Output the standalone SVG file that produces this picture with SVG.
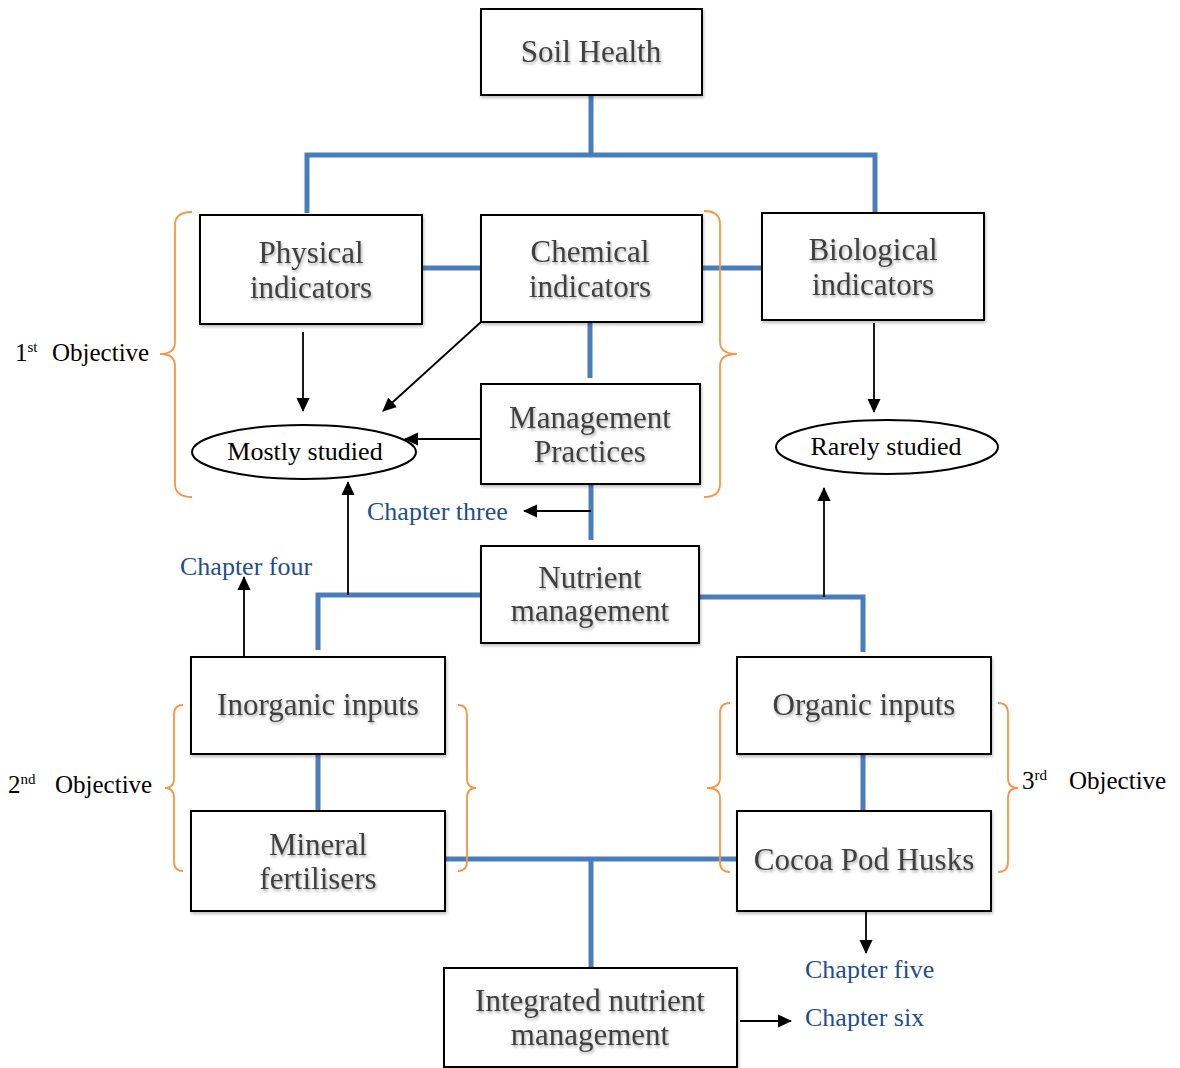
<svg xmlns="http://www.w3.org/2000/svg" width="1180" height="1068" viewBox="0 0 1180 1068">
<style>
.box{fill:#fff;stroke:#000;stroke-width:2}
.bt{font-family:"Liberation Serif",serif;font-size:31px;fill:#404040;text-anchor:middle}
.et{font-family:"Liberation Serif",serif;font-size:26px;fill:#000;text-anchor:middle}
.ch{font-family:"Liberation Serif",serif;font-size:26px;fill:#1f4e8a}
.ob{font-family:"Liberation Serif",serif;font-size:25px;fill:#000}
.blue{stroke:#4a7ebb;stroke-width:5;fill:none}
.arr{stroke:#000;stroke-width:1.8;fill:none;marker-end:url(#ah)}
.br{stroke:#f79646;stroke-width:1.8;fill:none}
.ell{fill:#fff;stroke:#000;stroke-width:2}
</style>
<defs>
<marker id="ah" markerWidth="14" markerHeight="14" refX="13" refY="7" orient="auto" markerUnits="userSpaceOnUse" viewBox="0 0 14 14">
<path d="M0,0.5 L14,7 L0,13.5 Z" fill="#000"/>
</marker>
<filter id="ts" x="-10%" y="-30%" width="120%" height="160%">
<feDropShadow dx="1" dy="2" stdDeviation="1.5" flood-color="#000" flood-opacity="0.35"/>
</filter>
<filter id="bs" x="-5%" y="-5%" width="110%" height="115%">
<feDropShadow dx="1" dy="2" stdDeviation="1.5" flood-color="#000" flood-opacity="0.25"/>
</filter>
</defs>
<rect width="1180" height="1068" fill="#fff"/>

<g id="connectors">
<path class="blue" d="M591,95 V155 M307,213 V155 H875 V213"/>
<path class="blue" d="M422,268 H481 M702,268 H762"/>
<path class="blue" d="M590,322 V378"/>
<path class="blue" d="M591,484 V540"/>
<path class="blue" d="M481,595 H318 V650 M699,597 H863 V652"/>
<path class="blue" d="M318,754 V811 M863,754 V811"/>
<path class="blue" d="M445,859 H737 M591,859 V968"/>
<line class="arr" x1="303" y1="332" x2="303" y2="411"/>
<line class="arr" x1="481" y1="322" x2="383" y2="411"/>
<line class="arr" x1="481" y1="439" x2="405" y2="439"/>
<line class="arr" x1="874" y1="323" x2="874" y2="412"/>
<line class="arr" x1="591" y1="511" x2="524" y2="511"/>
<line class="arr" x1="348" y1="595" x2="348" y2="482"/>
<line class="arr" x1="824" y1="597" x2="824" y2="488"/>
<line class="arr" x1="244" y1="658" x2="244" y2="577"/>
<line class="arr" x1="866" y1="911" x2="866" y2="953"/>
<line class="arr" x1="740" y1="1021" x2="791" y2="1021"/>
</g>

<g id="brackets">
<path class="br" d="M192,212 Q175,212 175,225 V342 Q175,354 160,354 Q175,354 175,366 V484 Q175,497 192,497"/>
<path class="br" d="M704,211 Q720,211 720,224 V342 Q720,354 737,354 Q720,354 720,366 V484 Q720,497 704,497"/>
<path class="br" d="M183,705 Q174,705 174,715 V778 Q174,788 165,788 Q174,788 174,798 V861 Q174,871 183,871"/>
<path class="br" d="M458,705 Q467,705 467,715 V778 Q467,788 476,788 Q467,788 467,798 V861 Q467,871 458,871"/>
<path class="br" d="M730,703 Q720,703 720,713 V778 Q720,788 707,788 Q720,788 720,798 V862 Q720,872 730,872"/>
<path class="br" d="M998,703 Q1008,703 1008,713 V778 Q1008,788 1018,788 Q1008,788 1008,798 V862 Q1008,872 998,872"/>
</g>

<g id="n-soil"><rect class="box" x="481" y="9" width="221" height="86" filter="url(#bs)"/><text class="bt" x="591" y="62" filter="url(#ts)">Soil Health</text></g>
<g id="n-physical"><rect class="box" x="200" y="215" width="222" height="109" filter="url(#bs)"/><text class="bt" x="311" y="263" filter="url(#ts)">Physical</text><text class="bt" x="311" y="298" filter="url(#ts)">indicators</text></g>
<g id="n-chemical"><rect class="box" x="481" y="215" width="221" height="107" filter="url(#bs)"/><text class="bt" x="590" y="262" filter="url(#ts)">Chemical</text><text class="bt" x="590" y="297" filter="url(#ts)">indicators</text></g>
<g id="n-biological"><rect class="box" x="762" y="213" width="222" height="107" filter="url(#bs)"/><text class="bt" x="873" y="260" filter="url(#ts)">Biological</text><text class="bt" x="873" y="295" filter="url(#ts)">indicators</text></g>
<g id="n-management"><rect class="box" x="481" y="384" width="219" height="100" filter="url(#bs)"/><text class="bt" x="590" y="428" filter="url(#ts)">Management</text><text class="bt" x="590" y="462" filter="url(#ts)">Practices</text></g>
<g id="n-mostly"><ellipse class="ell" cx="304" cy="452" rx="112" ry="27"/><text class="et" x="305" y="460">Mostly studied</text></g>
<g id="n-rarely"><ellipse class="ell" cx="887" cy="447" rx="111" ry="27"/><text class="et" x="886" y="455">Rarely studied</text></g>
<g id="n-nutrient"><rect class="box" x="481" y="546" width="218" height="97" filter="url(#bs)"/><text class="bt" x="590" y="588" filter="url(#ts)">Nutrient</text><text class="bt" x="590" y="621" filter="url(#ts)">management</text></g>
<g id="n-inorganic"><rect class="box" x="191" y="657" width="254" height="97" filter="url(#bs)"/><text class="bt" x="318" y="715" filter="url(#ts)">Inorganic inputs</text></g>
<g id="n-organic"><rect class="box" x="737" y="657" width="254" height="97" filter="url(#bs)"/><text class="bt" x="864" y="715" filter="url(#ts)">Organic inputs</text></g>
<g id="n-mineral"><rect class="box" x="191" y="811" width="254" height="100" filter="url(#bs)"/><text class="bt" x="318" y="855" filter="url(#ts)">Mineral</text><text class="bt" x="318" y="889" filter="url(#ts)">fertilisers</text></g>
<g id="n-cocoa"><rect class="box" x="737" y="811" width="254" height="100" filter="url(#bs)"/><text class="bt" x="864" y="870" filter="url(#ts)">Cocoa Pod Husks</text></g>
<g id="n-integrated"><rect class="box" x="444" y="968" width="293" height="99" filter="url(#bs)"/><text class="bt" x="590" y="1011" filter="url(#ts)">Integrated nutrient</text><text class="bt" x="590" y="1045" filter="url(#ts)">management</text></g>

<g id="labels">
<text class="ch" x="367" y="520">Chapter three</text>
<text class="ch" x="180" y="575">Chapter four</text>
<text class="ch" x="805" y="978">Chapter five</text>
<text class="ch" x="805" y="1026">Chapter six</text>
<text class="ob" x="15" y="361">1<tspan font-size="15" dy="-9">st</tspan><tspan x="52" dy="9">Objective</tspan></text>
<text class="ob" x="8" y="793">2<tspan font-size="15" dy="-9">nd</tspan><tspan x="55" dy="9">Objective</tspan></text>
<text class="ob" x="1022" y="789">3<tspan font-size="15" dy="-9">rd</tspan><tspan x="1069" dy="9">Objective</tspan></text>
</g>
</svg>
